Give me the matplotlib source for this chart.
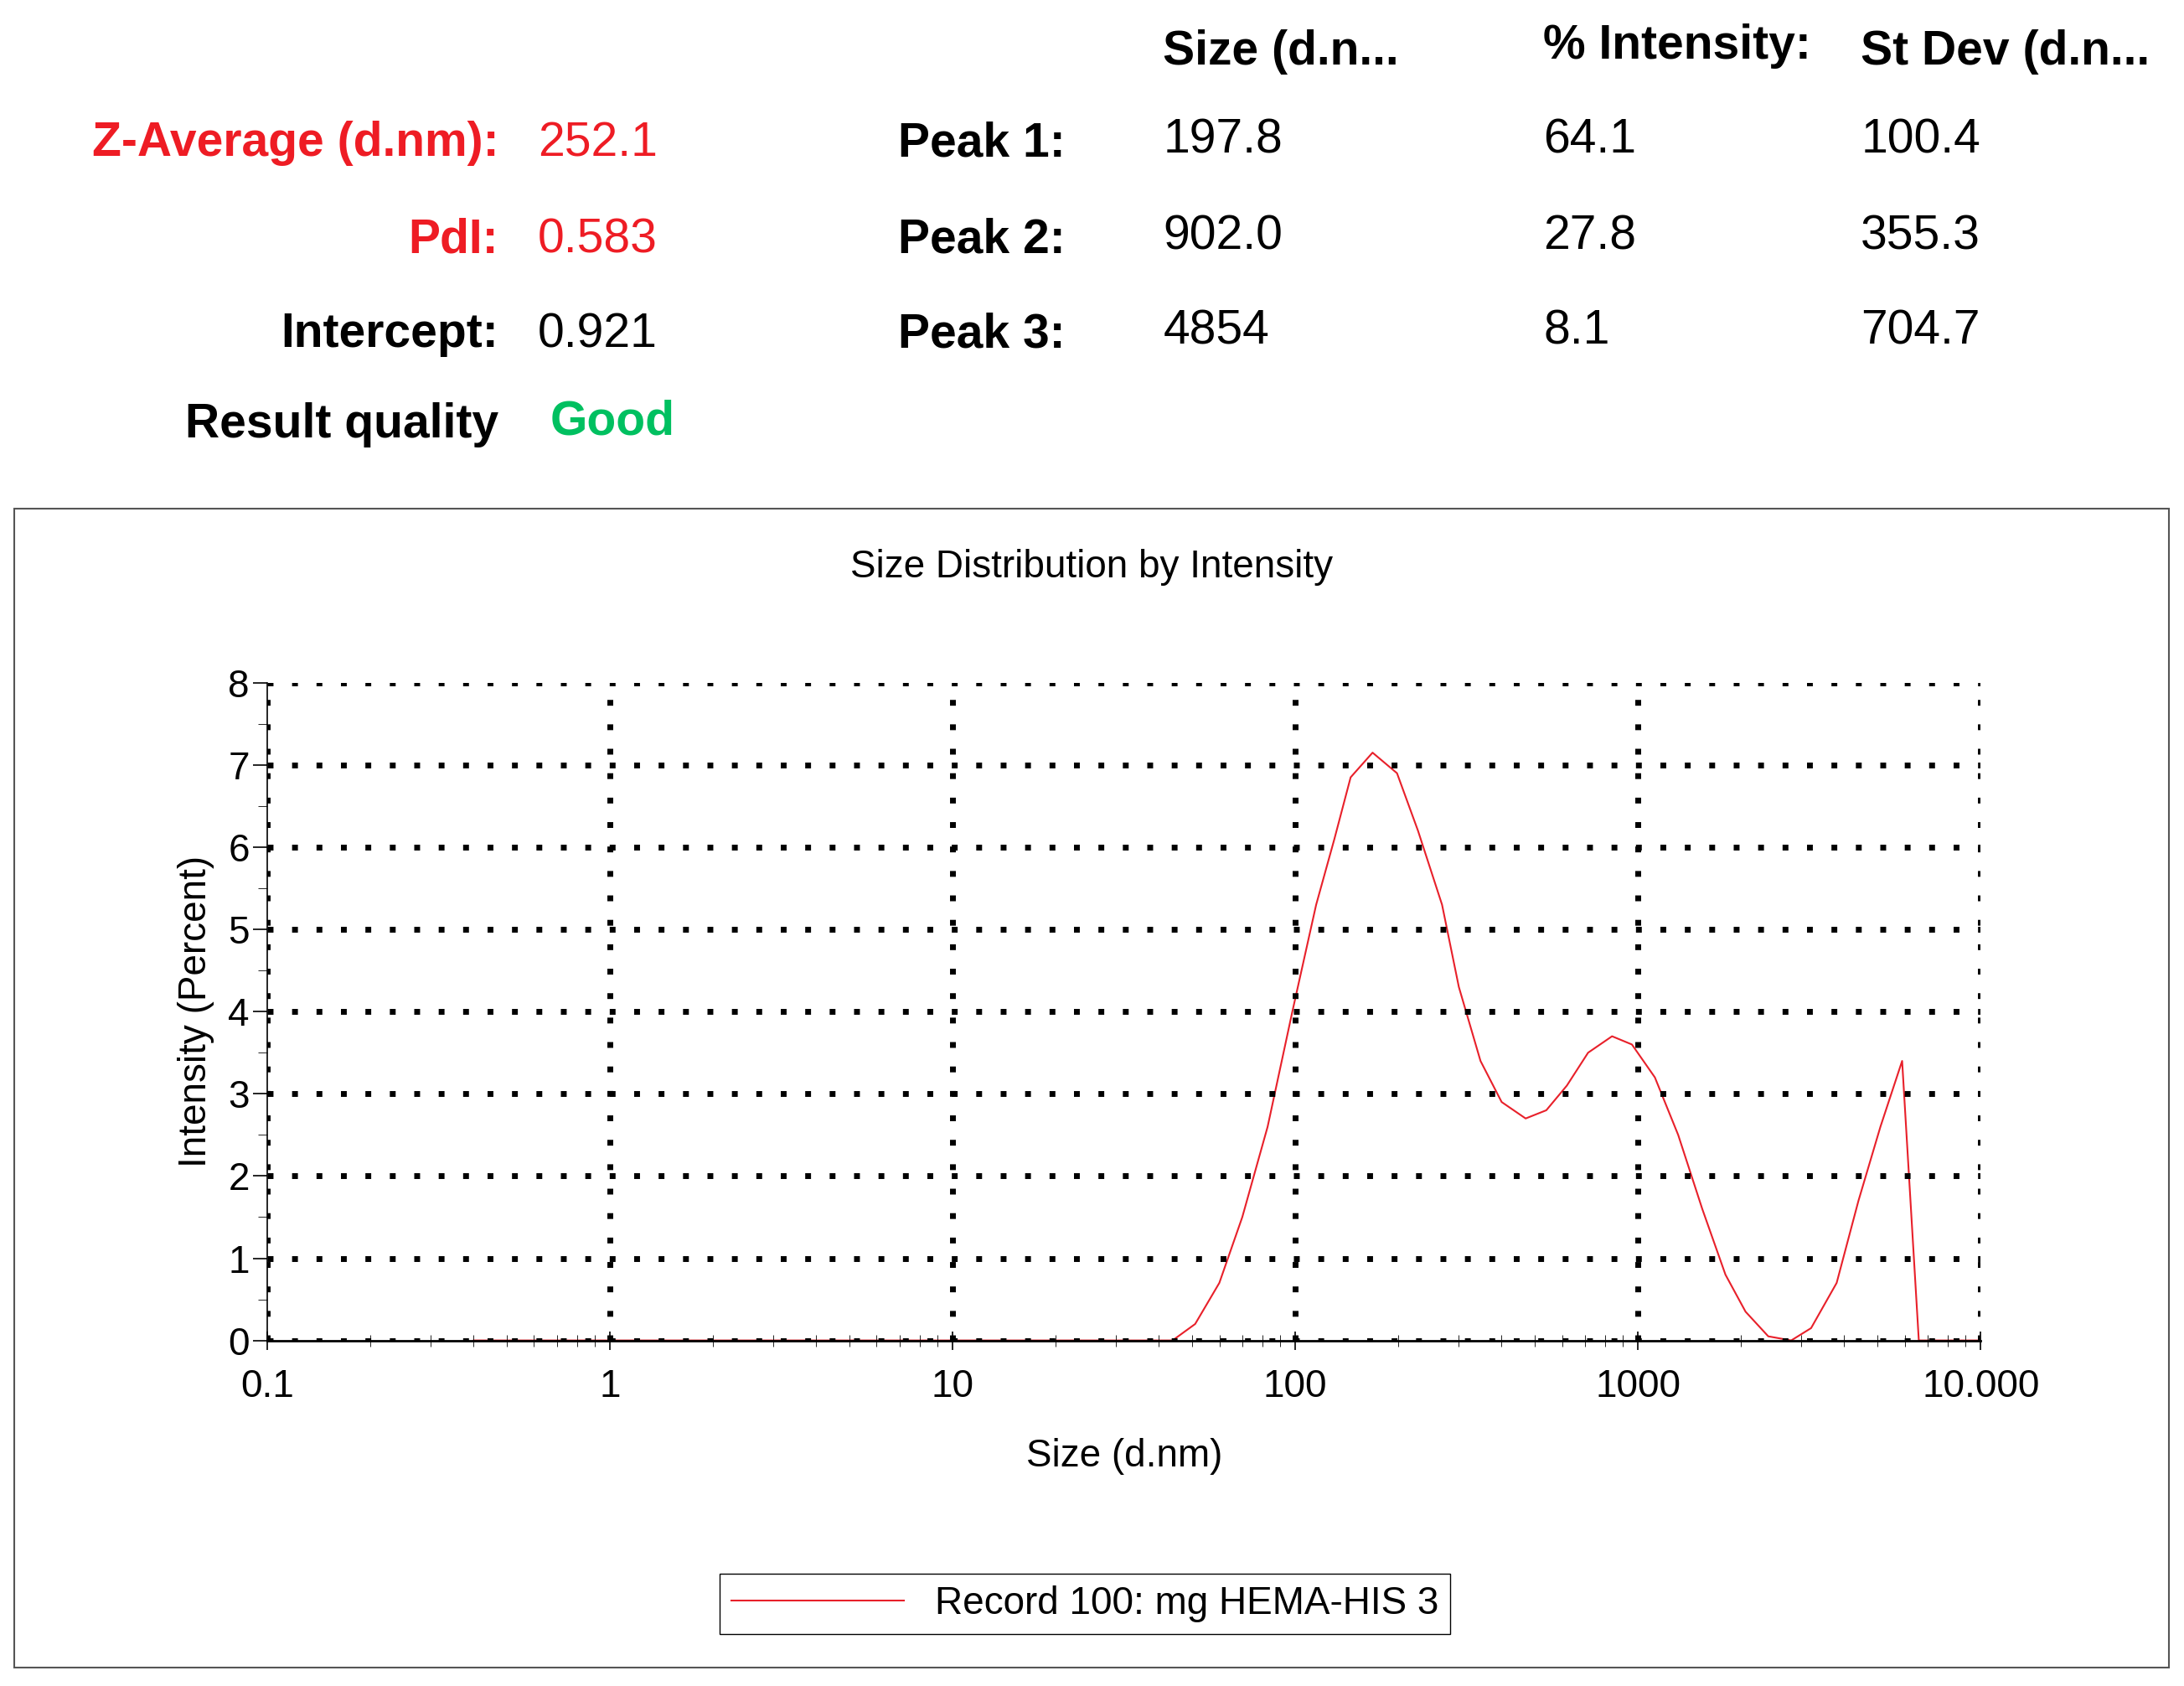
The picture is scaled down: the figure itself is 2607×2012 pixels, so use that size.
import matplotlib.pyplot as plt
from matplotlib.patches import Rectangle
from matplotlib.ticker import MultipleLocator, NullFormatter

plt.rcParams['font.family'] = ['Liberation Sans', 'DejaVu Sans']

# size (d.nm) and intensity (%)
size = [0.4, 1, 3, 10, 30, 43.8, 51, 60, 70, 83, 98, 115, 130, 145, 168, 198,
        228, 268, 300, 347, 400, 470, 540, 620, 715, 840, 960, 1120, 1310,
        1540, 1800, 2060, 2400, 2800, 3200, 3800, 4400, 5100, 5900, 6600,
        8000, 10000]
intensity = [0, 0, 0, 0, 0, 0, 0.2, 0.7, 1.5, 2.6, 4.0, 5.3, 6.1, 6.85, 7.15,
             6.9, 6.2, 5.3, 4.3, 3.4, 2.9, 2.7, 2.8, 3.1, 3.5, 3.7, 3.6, 3.2,
             2.5, 1.6, 0.8, 0.35, 0.05, 0.0, 0.15, 0.7, 1.7, 2.6, 3.4, 0,
             0, 0]

row_labels = ["Z-Average (d.nm):", "PdI:", "Intercept:", "Result quality"]
row_values = ["252.1", "0.583", "0.921", "Good"]
row_colors = ["#ee1c24", "#ee1c24", "black", "black"]
value_colors = ["#ee1c24", "#ee1c24", "black", "#00c060"]

peak_names = ["Peak 1:", "Peak 2:", "Peak 3:"]
peak_size = ["197.8", "902.0", "4854"]
peak_int = ["64.1", "27.8", "8.1"]
peak_sd = ["100.4", "355.3", "704.7"]

W, H = 1568, 1210
fig = plt.figure(figsize=(26.07, 20.12), dpi=100)

def fx(x):
    return x / W

def fy(y):
    return 1 - y / H

HF = 41  # header font size
CF = 33  # chart font size

# header block
ys = [103, 172, 240, 305]
for i in range(4):
    fig.text(fx(358), fy(ys[i]), row_labels[i], ha='right', va='center',
             fontsize=HF, fontweight='bold', color=row_colors[i])
    fig.text(fx(386 if i < 3 else 395), fy(ys[i] - (2 if i == 3 else 0)), row_values[i],
             ha='left', va='center', fontsize=HF,
             fontweight='bold' if i == 3 else 'normal', color=value_colors[i])

fig.text(fx(835), fy(37), "Size (d.n...", ha='left', va='center', fontsize=HF, fontweight='bold')
fig.text(fx(1108), fy(33), "% Intensity:", ha='left', va='center', fontsize=HF, fontweight='bold')
fig.text(fx(1336), fy(37), "St Dev (d.n...", ha='left', va='center', fontsize=HF, fontweight='bold')
for i in range(3):
    y = ys[i] - 2
    fig.text(fx(765), fy(y + 2), peak_names[i], ha='right', va='center', fontsize=HF, fontweight='bold')
    fig.text(fx(835), fy(y), peak_size[i], ha='left', va='center', fontsize=HF)
    fig.text(fx(1108), fy(y), peak_int[i], ha='left', va='center', fontsize=HF)
    fig.text(fx(1336), fy(y), peak_sd[i], ha='left', va='center', fontsize=HF)

# chart frame
fig.patches.append(Rectangle((fx(10), fy(1197)), fx(1547), (1197 - 365) / H,
                             transform=fig.transFigure, fill=False, lw=1.5,
                             edgecolor='#555555'))
fig.text(fx(784), fy(407), "Size Distribution by Intensity", ha='center', va='center', fontsize=CF)

ax = fig.add_axes([fx(192), fy(962), fx(1422 - 192), (962 - 490) / H])
ax.plot(size, intensity, color='#e8202a', lw=1.5, label="Record 100: mg HEMA-HIS 3")
ax.set_xscale('log')
ax.set_xlim(0.1, 10000)
ax.set_ylim(0, 8)
ax.set_xticks([0.1, 1, 10, 100, 1000, 10000])
ax.set_xticklabels(["0.1", "1", "10", "100", "1000", "10.000"])
ax.yaxis.set_major_locator(MultipleLocator(1))
ax.yaxis.set_minor_locator(MultipleLocator(0.5))
ax.xaxis.set_minor_formatter(NullFormatter())
ax.tick_params(axis='both', labelsize=CF, width=1.2)
ax.tick_params(axis='x', which='major', direction='inout', length=16, pad=16)
ax.tick_params(axis='x', which='minor', direction='inout', length=10)
ax.tick_params(axis='y', which='major', length=12)
ax.tick_params(axis='y', which='minor', length=8)
for s in ['top', 'right']:
    ax.spines[s].set_visible(False)
ax.spines['left'].set_linewidth(1.2)
ax.spines['bottom'].set_linewidth(2)
ax.grid(True, which='major', color='black', linestyle=(0, (1, 3.2)), lw=5)
ax.set_axisbelow(False)
ax.set_xlabel("Size (d.nm)", fontsize=CF, labelpad=28)
ax.set_ylabel("Intensity (Percent)", fontsize=CF, labelpad=12)

fig.legend(loc='center', bbox_to_anchor=(fx(779), fy(1151)), fontsize=CF,
           fancybox=False, edgecolor='black', framealpha=1, handlelength=4.5,
           borderpad=0.3)

fig.savefig("out.png", dpi=100)
